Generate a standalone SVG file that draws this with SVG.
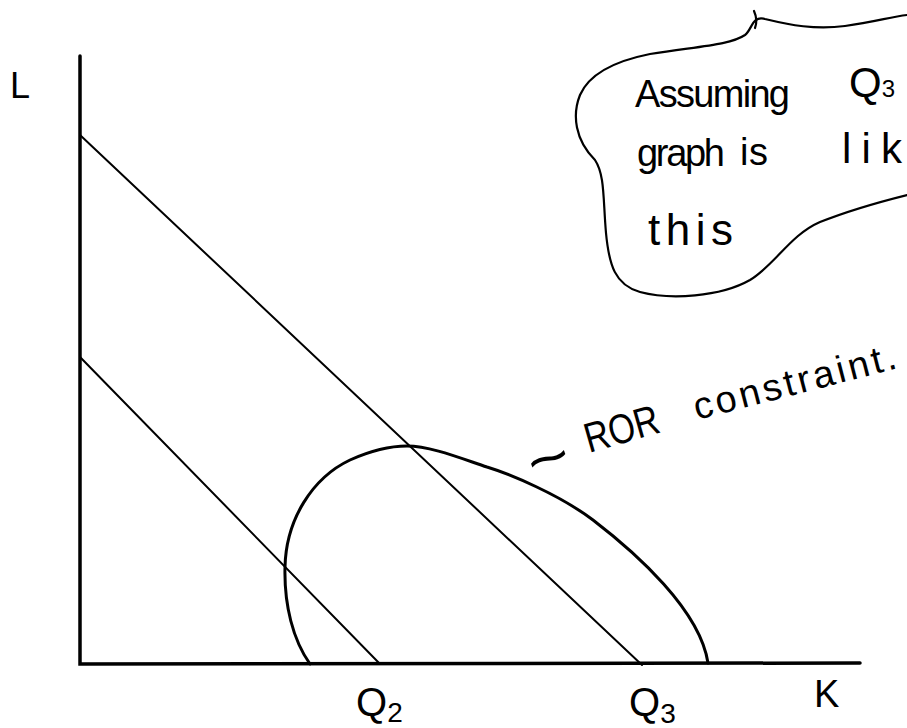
<svg xmlns="http://www.w3.org/2000/svg" width="907" height="728" viewBox="0 0 907 728">
<style>
.ax{stroke:#000;stroke-width:3.5;fill:none;stroke-linecap:round}
.ln{stroke:#000;stroke-width:2;fill:none;stroke-linecap:round}
.cv{stroke:#000;stroke-width:3;fill:none;stroke-linecap:round;stroke-linejoin:round}
.bb{stroke:#000;stroke-width:2.2;fill:none;stroke-linecap:round;stroke-linejoin:round}
text{font-family:"Liberation Sans","DejaVu Sans",sans-serif;fill:#000}
.t{font-size:38px}
</style>
<rect width="907" height="728" fill="#fff"/>
<g id="axes">
<path class="ax" d="M80,56 L80,664 L860,663"/>
</g>
<g id="connectors">
<path id="line-q3" class="ln" d="M80,135 L642,665"/>
<path id="line-q2" class="ln" d="M80,357 L380,664"/>
<path id="ror-curve" class="cv" d="M310,664 C293,640 284,605 285,567 C286,520 312,478 350,460 C370,451 390,446 407,446 C430,446 460,458 487,467 C510,474 560,495 593,520 C636,553 700,610 708,663"/>
</g>
<g id="axis-labels">
<text x="10" y="98" font-size="36">L</text>
<text x="356" y="716" font-size="40">Q<tspan font-size="28" dy="6">2</tspan></text>
<text x="629" y="716" font-size="40">Q<tspan font-size="28" dy="7">3</tspan></text>
<text x="814" y="707" font-size="38">K</text>
</g>
<g id="ror-label">
<text x="535" y="484" font-size="58" textLength="42" lengthAdjust="spacingAndGlyphs" transform="rotate(-20 535 484)">~</text>
<text x="589" y="453" font-size="42" textLength="76" lengthAdjust="spacingAndGlyphs" transform="rotate(-16 589 453)">ROR</text>
<text x="697" y="420" font-size="38" textLength="208" lengthAdjust="spacing" transform="rotate(-14.5 697 420)">constraint.</text>
</g>
<g id="note-bubble">
<path class="bb" d="M907,15 C890,17 875,22 845,26 C815,30 790,25 765,19 C752,15 752,30 745,35 C730,45 700,46 650,54 C620,60 590,72 580,95 C572,115 575,140 595,160 C605,175 603,200 606,233 C609,265 615,285 640,292 C670,300 720,297 750,280 C775,265 790,235 820,222 C845,212 875,203 907,195"/>
<path class="bb" d="M754,11 Q758,20 755,28"/>
<text class="t" x="635" y="107" textLength="155" lengthAdjust="spacing">Assuming</text>
<text x="849" y="97" font-size="42">Q<tspan font-size="24">3</tspan></text>
<text class="t" x="637" y="166" textLength="88" lengthAdjust="spacing">graph</text>
<text class="t" x="740" y="165" textLength="28" lengthAdjust="spacing">is</text>
<text x="842" y="163" font-size="42" textLength="60" lengthAdjust="spacing">lik</text>
<text x="648" y="245" font-size="44" textLength="85" lengthAdjust="spacing">this</text>
</g>
</svg>
